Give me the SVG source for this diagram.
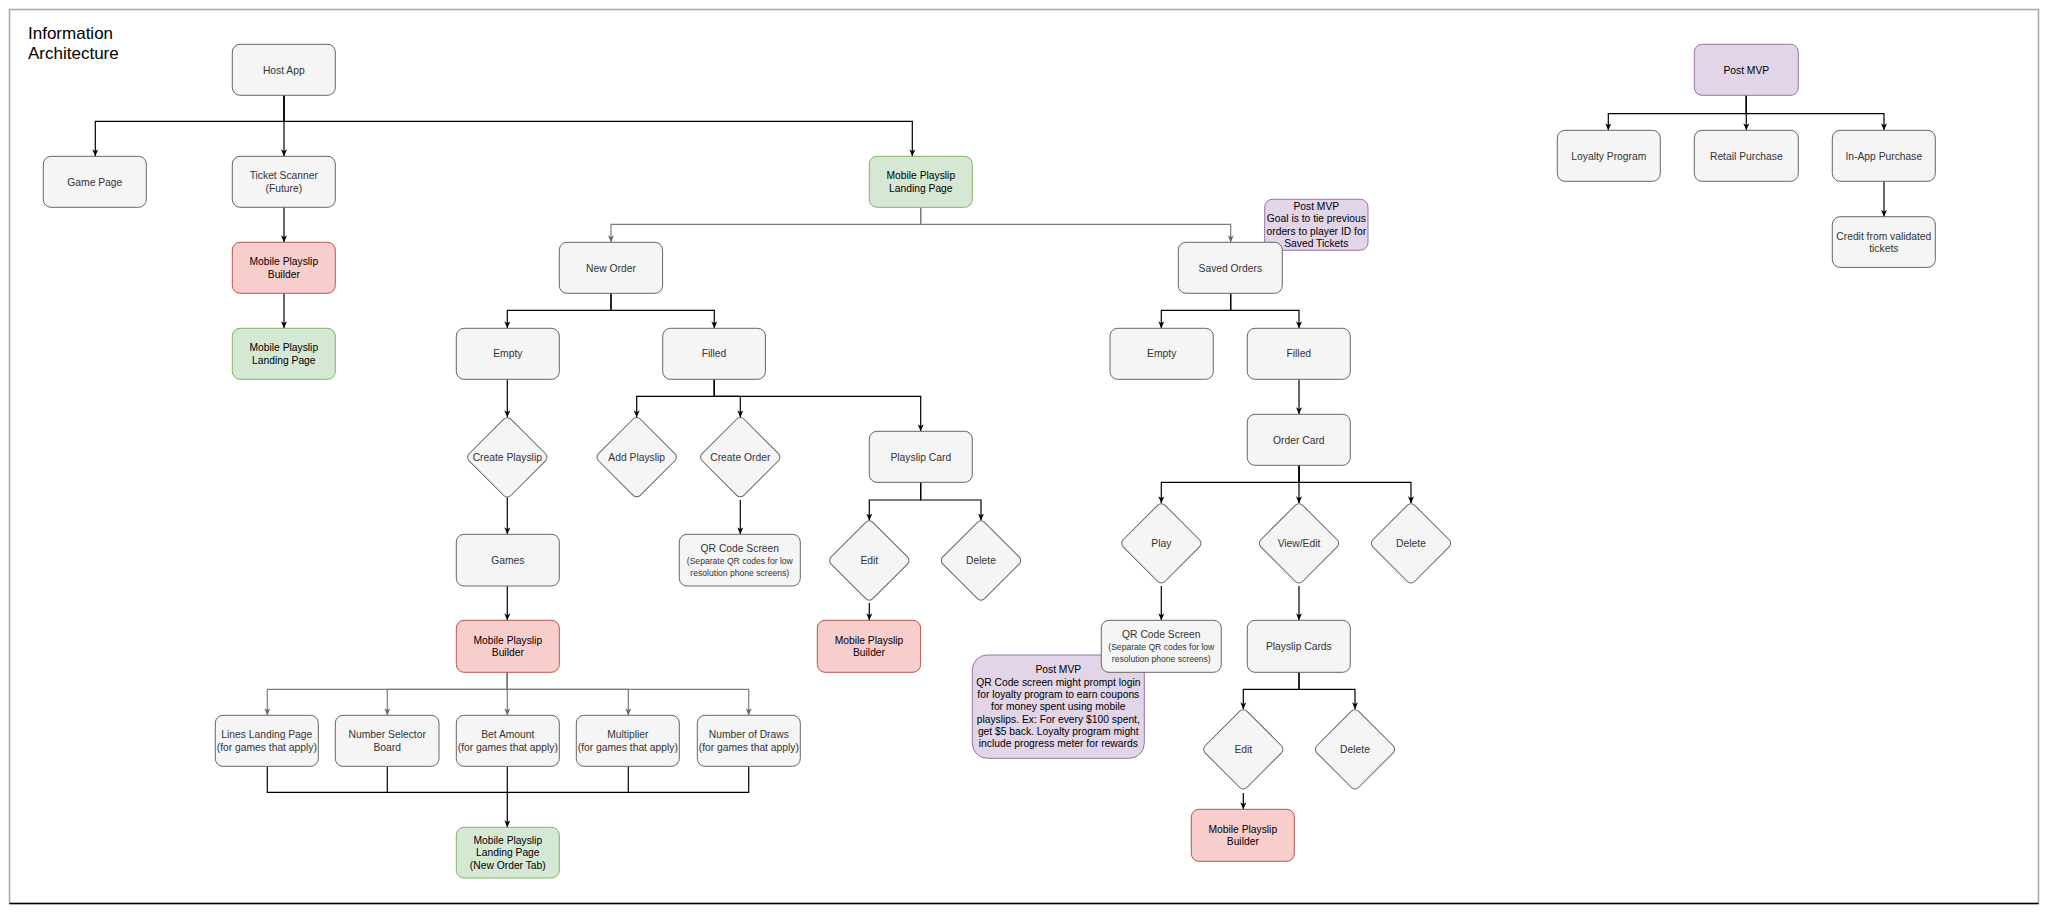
<svg xmlns="http://www.w3.org/2000/svg" width="2048" height="913" viewBox="0 0 2048 913">
<style>
.bg{fill:#ffffff}
.frame{fill:none;stroke:#a6a6a6;stroke-width:1.5}
.n{fill:#f5f5f5;stroke:#666666;stroke-width:1}
.r{fill:#f8cecc;stroke:#b85450;stroke-width:1}
.g{fill:#d5e8d4;stroke:#82b366;stroke-width:1}
.p{fill:#e1d5e7;stroke:#9673a6;stroke-width:1}
text{font-family:"Liberation Sans",Arial,Helvetica,sans-serif;font-size:10.3px;fill:#333333;text-anchor:middle}
text.k{fill:#000000}
text.s{font-size:8.6px}
text.title{font-size:17px;fill:#000000;text-anchor:start}
.cb{fill:none;stroke:#000000;stroke-width:1.2}
.cg{fill:none;stroke:#7a7a7a;stroke-width:1.2}
</style>
<defs>
<marker id="ab" viewBox="0 0 7 6" refX="7" refY="3" markerWidth="7" markerHeight="6" markerUnits="userSpaceOnUse" orient="auto"><path d="M0,0 L7,3 L0,6 L2,3 Z" fill="#000000"/></marker>
<marker id="ag" viewBox="0 0 7 6" refX="7" refY="3" markerWidth="7" markerHeight="6" markerUnits="userSpaceOnUse" orient="auto"><path d="M0,0 L7,3 L0,6 L2,3 Z" fill="#666666"/></marker>
</defs>
<rect class="bg" x="0" y="0" width="2048" height="913"/>
<rect class="frame" x="9.5" y="9.5" width="2029" height="894"/>
<line x1="9.5" y1="903.5" x2="2038.5" y2="903.5" stroke="#000000" stroke-width="1.5"/>
<text class="title" x="28" y="39">Information</text>
<text class="title" x="28" y="59">Architecture</text>

<g id="connectors">
<path class="cb" d="M284,95.3 V121.3 H95.3 V156.3" marker-end="url(#ab)"/>
<path class="cb" d="M284,95.3 V156.3" marker-end="url(#ab)"/>
<path class="cb" d="M284,95.3 V121.3 H912.3 V156.3" marker-end="url(#ab)"/>
<path class="cb" d="M284,207.3 V242.3" marker-end="url(#ab)"/>
<path class="cb" d="M284,293.3 V328.3" marker-end="url(#ab)"/>
<path class="cg" d="M920.7,207.3 V224.3 H611 V242.3" marker-end="url(#ag)"/>
<path class="cg" d="M920.7,207.3 V224.3 H1230.7 V242.3" marker-end="url(#ag)"/>
<path class="cb" d="M611,293.3 V310.3 H507.3 V328.3" marker-end="url(#ab)"/>
<path class="cb" d="M611,293.3 V310.3 H714.3 V328.3" marker-end="url(#ab)"/>
<path class="cb" d="M507.3,379 V417.3" marker-end="url(#ab)"/>
<path class="cb" d="M507.3,497.3 V534.3" marker-end="url(#ab)"/>
<path class="cb" d="M507.3,586 V620.3" marker-end="url(#ab)"/>
<path class="cg" d="M507.3,672.3 V689.3 H267.3 V715.3" marker-end="url(#ag)"/>
<path class="cg" d="M507.3,672.3 V689.3 H387.3 V715.3" marker-end="url(#ag)"/>
<path class="cg" d="M507.3,672.3 V715.3" marker-end="url(#ag)"/>
<path class="cg" d="M507.3,672.3 V689.3 H628.3 V715.3" marker-end="url(#ag)"/>
<path class="cg" d="M507.3,672.3 V689.3 H748.7 V715.3" marker-end="url(#ag)"/>
<path class="cb" d="M267.3,766.3 V792.3 H748.7 V766.3"/>
<path class="cb" d="M387.3,766.3 V792.3"/>
<path class="cb" d="M628.3,766.3 V792.3"/>
<path class="cb" d="M507.3,766.3 V827.3" marker-end="url(#ab)"/>
<path class="cb" d="M714.3,379.3 V396.3 H636.7 V417.2" marker-end="url(#ab)"/>
<path class="cb" d="M714.3,379.3 V396.3 H740.3 V417.2" marker-end="url(#ab)"/>
<path class="cb" d="M714.3,379.3 V396.3 H920.7 V431.3" marker-end="url(#ab)"/>
<path class="cb" d="M740.3,500 V534.3" marker-end="url(#ab)"/>
<path class="cb" d="M920.7,482.3 V500 H869.3 V520.5" marker-end="url(#ab)"/>
<path class="cb" d="M920.7,482.3 V500 H981 V520.5" marker-end="url(#ab)"/>
<path class="cb" d="M869.3,603 V620.3" marker-end="url(#ab)"/>
<path class="cb" d="M1230.7,293.3 V310.3 H1161.3 V328.3" marker-end="url(#ab)"/>
<path class="cb" d="M1230.7,293.3 V310.3 H1299 V328.3" marker-end="url(#ab)"/>
<path class="cb" d="M1299,379.3 V414.3" marker-end="url(#ab)"/>
<path class="cb" d="M1299,465.3 V482.3 H1161.3 V503.3" marker-end="url(#ab)"/>
<path class="cb" d="M1299,465.3 V503.3" marker-end="url(#ab)"/>
<path class="cb" d="M1299,465.3 V482.3 H1411 V503.3" marker-end="url(#ab)"/>
<path class="cb" d="M1161.3,586 V620.3" marker-end="url(#ab)"/>
<path class="cb" d="M1299,586 V620.3" marker-end="url(#ab)"/>
<path class="cb" d="M1299,672.3 V689.3 H1243.3 V709.3" marker-end="url(#ab)"/>
<path class="cb" d="M1299,672.3 V689.3 H1355 V709.3" marker-end="url(#ab)"/>
<path class="cb" d="M1243.3,793 V809.3" marker-end="url(#ab)"/>
<path class="cb" d="M1746.3,95.3 V113.7 H1608.3 V130.3" marker-end="url(#ab)"/>
<path class="cb" d="M1746.3,95.3 V130.3" marker-end="url(#ab)"/>
<path class="cb" d="M1746.3,95.3 V113.7 H1884 V130.3" marker-end="url(#ab)"/>
<path class="cb" d="M1884,181.3 V216.7" marker-end="url(#ab)"/>
</g>

<g id="host-app"><rect class="n" x="232.3" y="44.3" width="103" height="51" rx="7.7"/><text x="283.8" y="73.5">Host App</text></g>
<g id="game-page"><rect class="n" x="43.3" y="156.3" width="103" height="51" rx="7.7"/><text x="94.8" y="185.5">Game Page</text></g>
<g id="ticket-scanner"><rect class="n" x="232.3" y="156.3" width="103" height="51" rx="7.7"/><text x="283.8" y="179.3">Ticket Scanner</text><text x="283.8" y="191.7">(Future)</text></g>
<g id="builder-1"><rect class="r" x="232.3" y="242.3" width="103" height="51" rx="7.7"/><text class="k" x="283.8" y="265.3">Mobile Playslip</text><text class="k" x="283.8" y="277.7">Builder</text></g>
<g id="landing-1"><rect class="g" x="232.3" y="328.3" width="103" height="51" rx="7.7"/><text class="k" x="283.8" y="351.3">Mobile Playslip</text><text class="k" x="283.8" y="363.7">Landing Page</text></g>

<g id="landing-main"><rect class="g" x="869.3" y="156.3" width="103" height="51" rx="7.7"/><text class="k" x="920.8" y="179.3">Mobile Playslip</text><text class="k" x="920.8" y="191.7">Landing Page</text></g>
<g id="new-order"><rect class="n" x="559.3" y="242.3" width="103.3" height="51" rx="7.7"/><text x="611" y="271.5">New Order</text></g>
<g id="note-saved"><rect class="p" x="1264.7" y="199.3" width="103.3" height="51" rx="7.7"/><text class="k" x="1316.3" y="210">Post MVP</text><text class="k" x="1316.3" y="222.3">Goal is to tie previous</text><text class="k" x="1316.3" y="234.6">orders to player ID for</text><text class="k" x="1316.3" y="246.9">Saved Tickets</text></g>
<g id="saved-orders"><rect class="n" x="1178.3" y="242.3" width="104" height="51" rx="7.7"/><text x="1230.3" y="271.5">Saved Orders</text></g>

<g id="empty-1"><rect class="n" x="456.3" y="328.3" width="103" height="51" rx="7.7"/><text x="507.8" y="357.4">Empty</text></g>
<g id="filled-1"><rect class="n" x="662.7" y="328.3" width="102.7" height="51" rx="7.7"/><text x="714" y="357.4">Filled</text></g>
<g id="create-playslip"><rect class="n" x="-29.5" y="-29.5" width="59" height="59" rx="5" transform="translate(507.3,457.3) rotate(45)"/><text x="507.3" y="461">Create Playslip</text></g>
<g id="add-playslip"><rect class="n" x="-29.5" y="-29.5" width="59" height="59" rx="5" transform="translate(636.7,457.2) rotate(45)"/><text x="636.7" y="460.9">Add Playslip</text></g>
<g id="create-order"><rect class="n" x="-29.5" y="-29.5" width="59" height="59" rx="5" transform="translate(740.3,457.2) rotate(45)"/><text x="740.3" y="460.9">Create Order</text></g>
<g id="playslip-card"><rect class="n" x="869.3" y="431.3" width="103" height="51" rx="7.7"/><text x="920.8" y="460.5">Playslip Card</text></g>
<g id="games"><rect class="n" x="456.3" y="534.3" width="103" height="51.7" rx="7.7"/><text x="507.8" y="563.9">Games</text></g>
<g id="qr-1"><rect class="n" x="679.3" y="534.3" width="121" height="51.7" rx="7.7"/><text x="739.8" y="551.7">QR Code Screen</text><text class="s" x="739.8" y="563.7">(Separate QR codes for low</text><text class="s" x="739.8" y="575.6">resolution phone screens)</text></g>
<g id="edit-1"><rect class="n" x="-29.5" y="-29.5" width="59" height="59" rx="5" transform="translate(869.3,560.5) rotate(45)"/><text x="869.3" y="564.2">Edit</text></g>
<g id="delete-1"><rect class="n" x="-29.5" y="-29.5" width="59" height="59" rx="5" transform="translate(981,560.5) rotate(45)"/><text x="981" y="564.2">Delete</text></g>
<g id="builder-2"><rect class="r" x="456.3" y="620.3" width="103" height="52" rx="7.7"/><text class="k" x="507.8" y="643.8">Mobile Playslip</text><text class="k" x="507.8" y="656.2">Builder</text></g>
<g id="builder-3"><rect class="r" x="817.3" y="620.3" width="103.3" height="52" rx="7.7"/><text class="k" x="869" y="643.8">Mobile Playslip</text><text class="k" x="869" y="656.2">Builder</text></g>

<g id="lines-landing"><rect class="n" x="215.3" y="715.3" width="103" height="51" rx="7.7"/><text x="266.8" y="738.3">Lines Landing Page</text><text x="266.8" y="750.7">(for games that apply)</text></g>
<g id="number-selector"><rect class="n" x="335.3" y="715.3" width="103.7" height="51" rx="7.7"/><text x="387.2" y="738.3">Number Selector</text><text x="387.2" y="750.7">Board</text></g>
<g id="bet-amount"><rect class="n" x="456.3" y="715.3" width="103" height="51" rx="7.7"/><text x="507.8" y="738.3">Bet Amount</text><text x="507.8" y="750.7">(for games that apply)</text></g>
<g id="multiplier"><rect class="n" x="576.3" y="715.3" width="103" height="51" rx="7.7"/><text x="627.8" y="738.3">Multiplier</text><text x="627.8" y="750.7">(for games that apply)</text></g>
<g id="number-draws"><rect class="n" x="697.3" y="715.3" width="103" height="51" rx="7.7"/><text x="748.8" y="738.3">Number of Draws</text><text x="748.8" y="750.7">(for games that apply)</text></g>
<g id="landing-new-order"><rect class="g" x="456.3" y="827.3" width="103" height="50.7" rx="7.7"/><text class="k" x="507.8" y="844">Mobile Playslip</text><text class="k" x="507.8" y="856.3">Landing Page</text><text class="k" x="507.8" y="868.6">(New Order Tab)</text></g>

<g id="empty-2"><rect class="n" x="1110" y="328.3" width="103.3" height="51" rx="7.7"/><text x="1161.7" y="357.4">Empty</text></g>
<g id="filled-2"><rect class="n" x="1247.3" y="328.3" width="103" height="51" rx="7.7"/><text x="1298.8" y="357.4">Filled</text></g>
<g id="order-card"><rect class="n" x="1247.3" y="414.3" width="103" height="51" rx="7.7"/><text x="1298.8" y="443.5">Order Card</text></g>
<g id="play"><rect class="n" x="-29.5" y="-29.5" width="59" height="59" rx="5" transform="translate(1161.3,543.3) rotate(45)"/><text x="1161.3" y="547">Play</text></g>
<g id="view-edit"><rect class="n" x="-29.5" y="-29.5" width="59" height="59" rx="5" transform="translate(1299,543.3) rotate(45)"/><text x="1299" y="547">View/Edit</text></g>
<g id="delete-2"><rect class="n" x="-29.5" y="-29.5" width="59" height="59" rx="5" transform="translate(1411,543.3) rotate(45)"/><text x="1411" y="547">Delete</text></g>
<g id="note-qr"><rect class="p" x="972.3" y="655" width="172" height="103.3" rx="15"/><text class="k" x="1058.3" y="673.4">Post MVP</text><text class="k" x="1058.3" y="685.7">QR Code screen might prompt login</text><text class="k" x="1058.3" y="698">for loyalty program to earn coupons</text><text class="k" x="1058.3" y="710.3">for money spent using mobile</text><text class="k" x="1058.3" y="722.6">playslips. Ex: For every $100 spent,</text><text class="k" x="1058.3" y="734.9">get $5 back. Loyalty program might</text><text class="k" x="1058.3" y="747.2">include progress meter for rewards</text></g>
<g id="qr-2"><rect class="n" x="1101.3" y="620.3" width="120" height="52" rx="7.7"/><text x="1161.3" y="637.5">QR Code Screen</text><text class="s" x="1161.3" y="649.5">(Separate QR codes for low</text><text class="s" x="1161.3" y="661.5">resolution phone screens)</text></g>
<g id="playslip-cards"><rect class="n" x="1247.3" y="620.3" width="103" height="52" rx="7.7"/><text x="1298.8" y="650">Playslip Cards</text></g>
<g id="edit-2"><rect class="n" x="-29.5" y="-29.5" width="59" height="59" rx="5" transform="translate(1243.3,749.3) rotate(45)"/><text x="1243.3" y="753">Edit</text></g>
<g id="delete-3"><rect class="n" x="-29.5" y="-29.5" width="59" height="59" rx="5" transform="translate(1355,749.3) rotate(45)"/><text x="1355" y="753">Delete</text></g>
<g id="builder-4"><rect class="r" x="1191.3" y="809.3" width="103" height="52" rx="7.7"/><text class="k" x="1242.8" y="832.8">Mobile Playslip</text><text class="k" x="1242.8" y="845.2">Builder</text></g>

<g id="post-mvp"><rect class="p" x="1694.3" y="44.3" width="104" height="51" rx="7.7"/><text class="k" x="1746.3" y="73.5">Post MVP</text></g>
<g id="loyalty"><rect class="n" x="1557.3" y="130.3" width="103" height="51" rx="7.7"/><text x="1608.8" y="159.5">Loyalty Program</text></g>
<g id="retail"><rect class="n" x="1694.3" y="130.3" width="104" height="51" rx="7.7"/><text x="1746.3" y="159.5">Retail Purchase</text></g>
<g id="in-app"><rect class="n" x="1832.3" y="130.3" width="103" height="51" rx="7.7"/><text x="1883.8" y="159.5">In-App Purchase</text></g>
<g id="credit"><rect class="n" x="1832.3" y="216.7" width="103" height="50.7" rx="7.7"/><text x="1883.8" y="239.6">Credit from validated</text><text x="1883.8" y="252">tickets</text></g>
</svg>
